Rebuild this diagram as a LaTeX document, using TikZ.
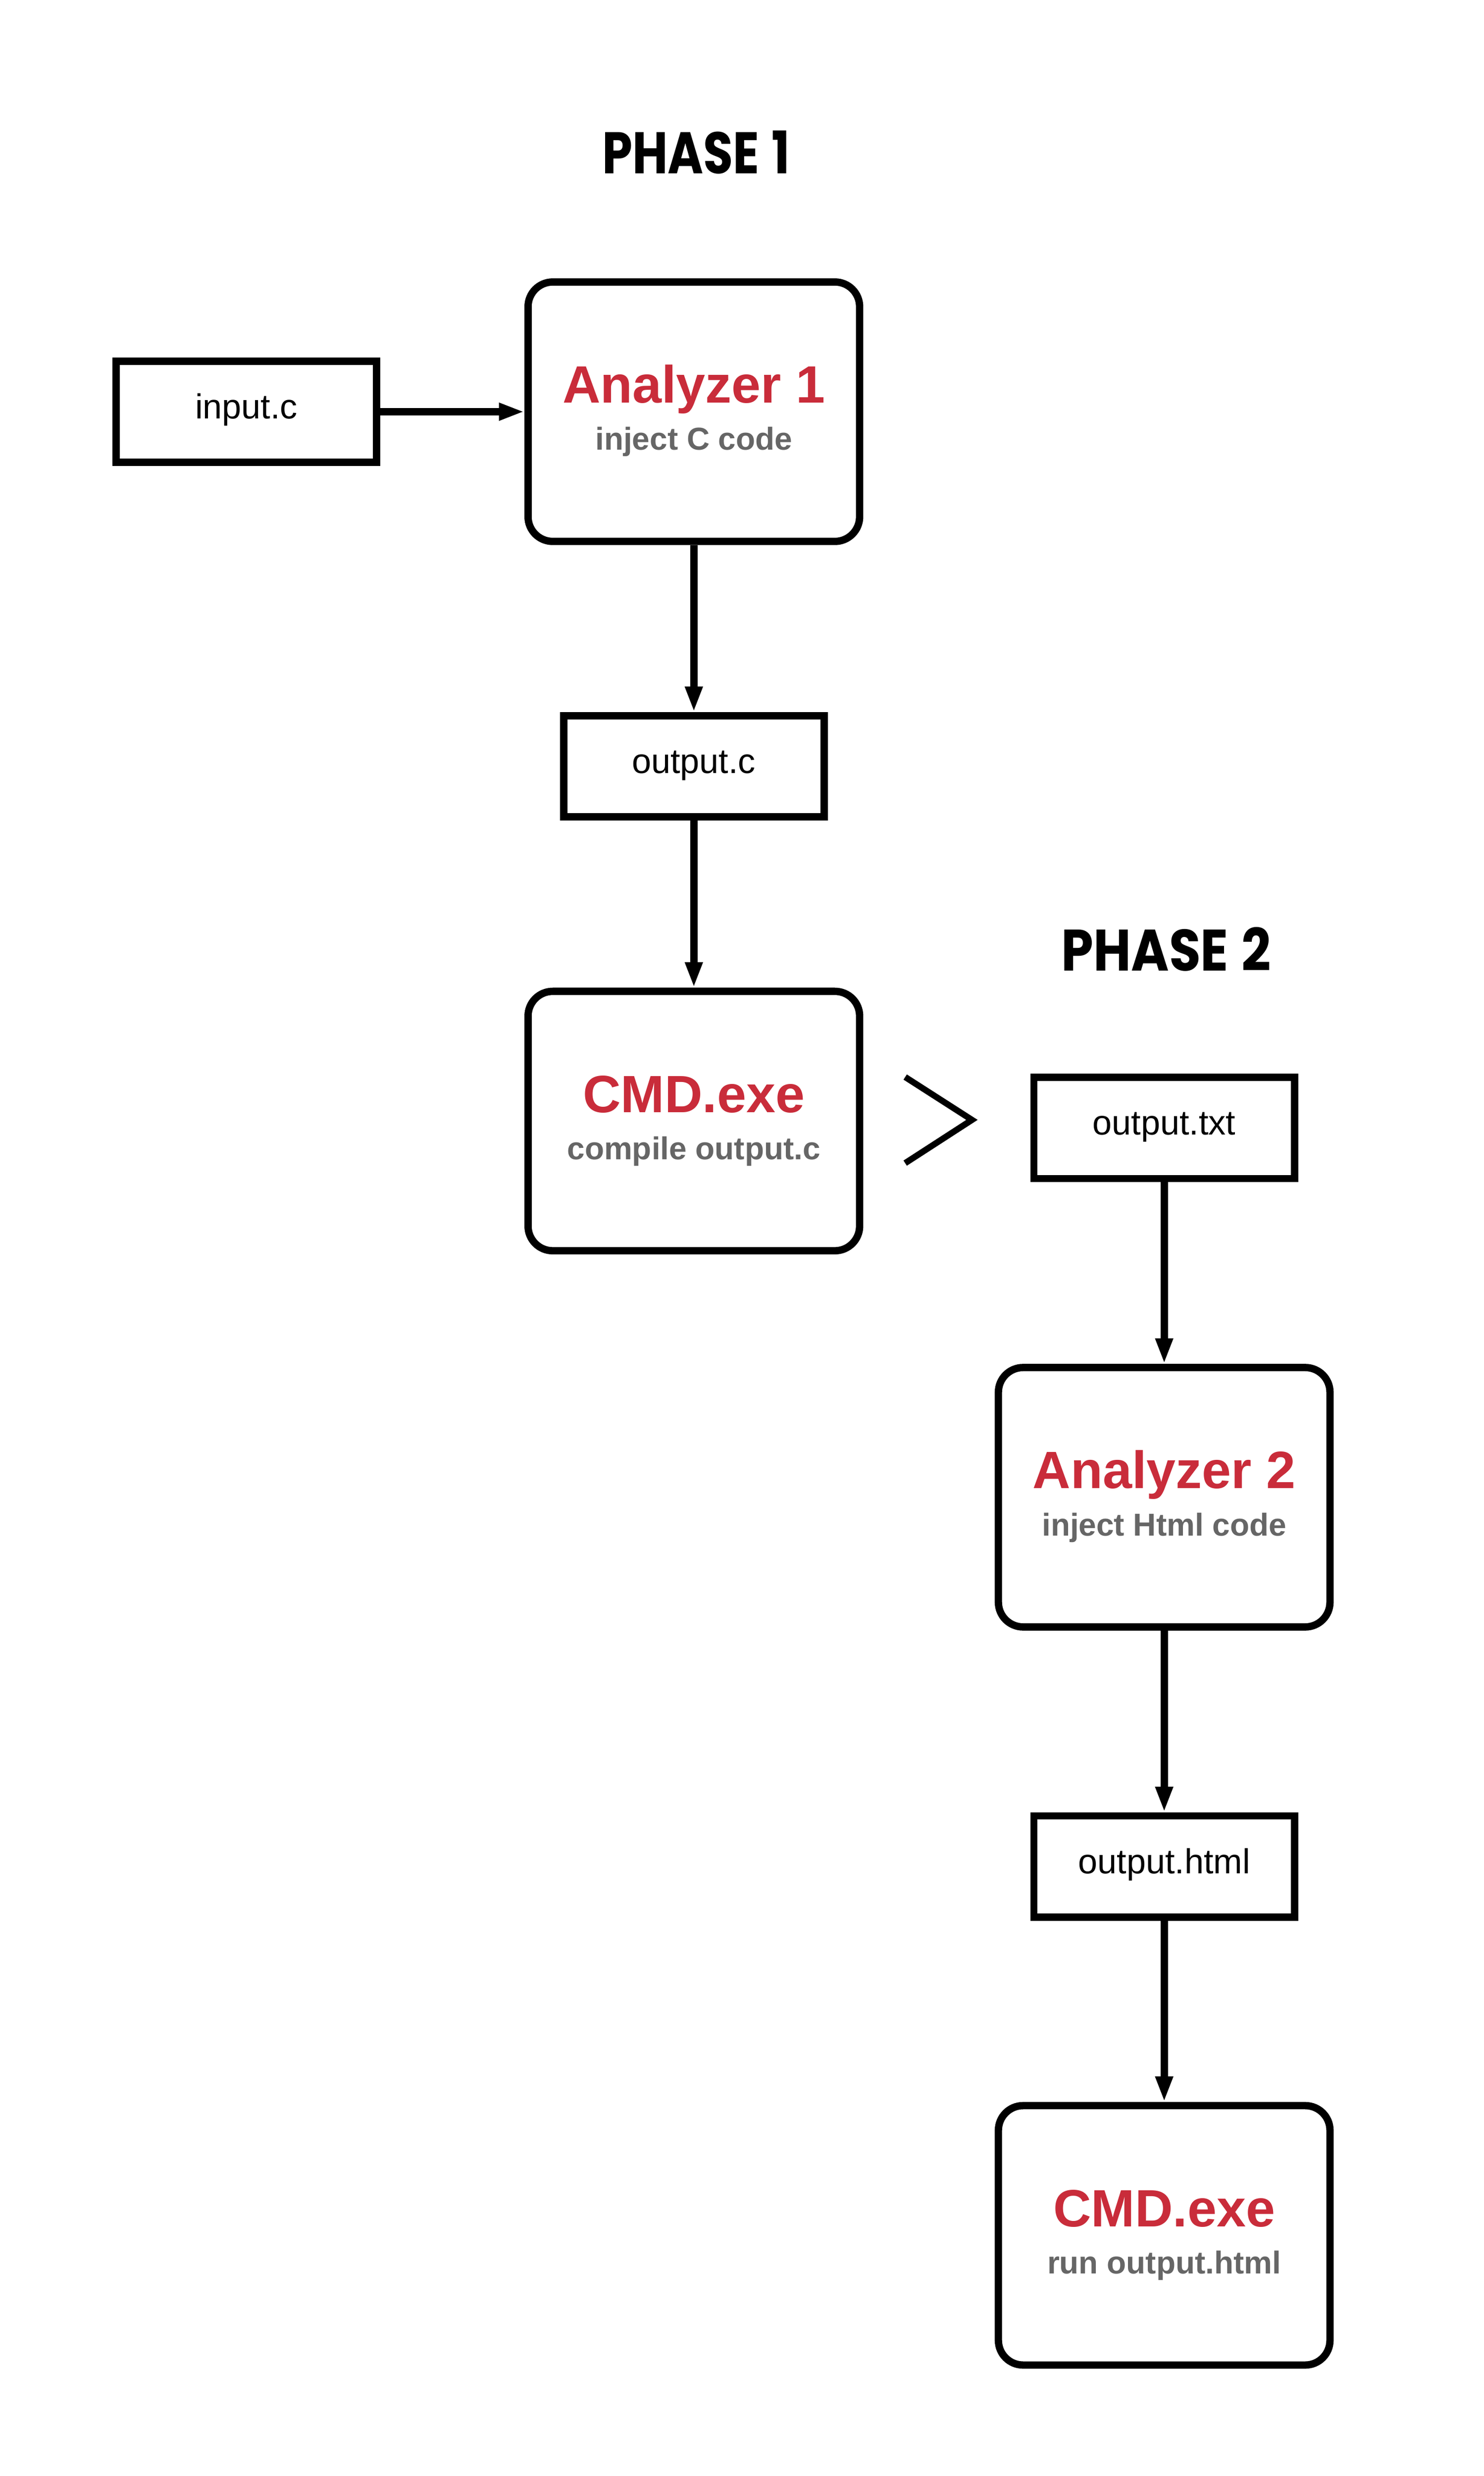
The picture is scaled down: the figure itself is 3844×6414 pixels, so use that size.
\documentclass[tikz,border=0pt]{standalone}
\usepackage{fontspec}
\setmainfont{Liberation Sans}
\newfontfamily\phasefont{Poppins}
\usepackage{graphicx}
\usetikzlibrary{arrows.meta,calc}
\definecolor{titlered}{HTML}{C92C3A}
\definecolor{subgray}{HTML}{666666}
\begin{document}
\begin{tikzpicture}[x=0.25pt, y=-0.25pt,
  procbox/.style={draw, line width=4.75pt, rounded corners=16pt, minimum width=214.75pt, minimum height=168pt, inner sep=0pt},
  filebox/.style={draw, line width=4.75pt, minimum width=168.75pt, minimum height=65.5pt, inner sep=0pt,
    font=\fontsize{22.5pt}{27pt}\selectfont, text height=16pt, text depth=7pt},
  boxtitle/.style={anchor=base, inner sep=0pt, text=titlered, font=\fontsize{34pt}{40pt}\selectfont\bfseries},
  boxsub/.style={anchor=base, inner sep=0pt, text=subgray, font=\fontsize{20.5pt}{24pt}\selectfont\bfseries},
  phase/.style={anchor=base, inner sep=0pt, font=\phasefont\bfseries},
  flow/.style={line width=4.75pt, -{Triangle[length=16.5pt,width=10.5pt]}},
  chevron/.style={line width=4pt, line join=miter}
]
\fill[white] (0,0) rectangle (3844,6414);
\useasboundingbox (0,0) rectangle (3844,6414);

% phase titles
\node[phase] (ph1) at (1803,449) {\resizebox{121.5pt}{27.75pt}{PHASE\hspace{0.25em}1}};
\node[phase] (ph2) at (3021,2515) {\resizebox{135.5pt}{28.25pt}{PHASE\hspace{0.25em}2}};

% phase 1
\node[filebox] (inc) at (638,1066.5) {input.c};
\node[procbox] (an1) at (1797.5,1066.5) {};
\node[boxtitle] (an1t) at ($(an1.center)+(0,-22.5)$) {Analyzer 1};
\node[boxsub] (an1s) at ($(an1.center)+(0,99.5)$) {inject C code};
\node[filebox] (outc) at (1797.5,1985) {output.c};
\node[procbox] (cmd1) at (1797.5,2904) {};
\node[boxtitle] (cmd1t) at ($(cmd1.center)+(0,-22.5)$) {CMD.exe};
\node[boxsub] (cmd1s) at ($(cmd1.center)+(0,99.5)$) {compile output.c};

% phase 2
\node[filebox] (outtxt) at (3016,2922) {output.txt};
\node[procbox] (an2) at (3016,3878.5) {};
\node[boxtitle] (an2t) at ($(an2.center)+(0,-22.5)$) {Analyzer 2};
\node[boxsub] (an2s) at ($(an2.center)+(0,99.5)$) {inject Html code};
\node[filebox] (outhtml) at (3016,4835) {output.html};
\node[procbox] (cmd2) at (3016,5790.5) {};
\node[boxtitle] (cmd2t) at ($(cmd2.center)+(0,-22.5)$) {CMD.exe};
\node[boxsub] (cmd2s) at ($(cmd2.center)+(0,99.5)$) {run output.html};

% chevron
\coordinate (chevA) at (2345,2790);
\coordinate (chevT) at (2518,2901);
\coordinate (chevB) at (2345,3013);
\draw[chevron] (chevA) -- (chevT) -- (chevB);

% connectors
\draw[flow] (inc.east) -- (an1.west);
\draw[flow] (an1.south) -- (outc.north);
\draw[flow] (outc.south) -- (cmd1.north);
\draw[flow] (outtxt.south) -- (an2.north);
\draw[flow] (an2.south) -- (outhtml.north);
\draw[flow] (outhtml.south) -- (cmd2.north);
\end{tikzpicture}
\end{document}
